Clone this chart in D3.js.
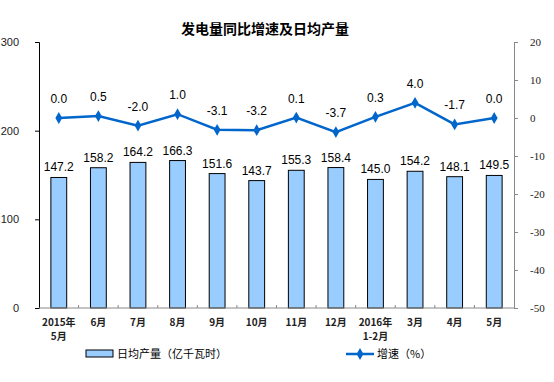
<!DOCTYPE html>
<html>
<head>
<meta charset="utf-8">
<script src="https://cdn.jsdelivr.net/npm/d3@7"></script>
<style>
  html, body { margin: 0; padding: 0; background: #fff; overflow: hidden; }
  svg { display: block; }
  text { font-family: Arial, "Liberation Sans", "Noto Sans CJK SC", sans-serif; }
</style>
</head>
<body>
<div id="chart"></div>
<script>
// Data
const months = ["2015年|5月", "6月", "7月", "8月", "9月", "10月", "11月", "12月", "2016年|1-2月", "3月", "4月", "5月"];
const dailyOutput = [147.2, 158.2, 164.2, 166.3, 151.6, 143.7, 155.3, 158.4, 145.0, 154.2, 148.1, 149.5];
const growth = [0.0, 0.5, -2.0, 1.0, -3.1, -3.2, 0.1, -3.7, 0.3, 4.0, -1.7, 0.0];
const leftTicks = [0, 100, 200, 300];
const rightTicks = [20, 10, 0, -10, -20, -30, -40, -50];

const width = 554, height = 382;
const margin = { top: 42, right: 40, bottom: 74, left: 39 };
const innerWidth = width - margin.left - margin.right;
const innerHeight = height - margin.top - margin.bottom;

const svg = d3.select("#chart")
    .append("svg")
    .attr("width", width)
    .attr("height", height);

const g = svg.append("g")
    .attr("transform", `translate(${margin.left},${margin.top})`);

// Scales
const xScale = d3.scaleBand()
    .domain(months)
    .range([0, innerWidth])
    .paddingInner(0.6)
    .paddingOuter(0.3);

const yLeft = d3.scaleLinear().domain([0, 300]).range([innerHeight, 0]);
const yRight = d3.scaleLinear().domain([-50, 20]).range([innerHeight, 0]);

// Title
svg.append("text")
    .attr("x", 265)
    .attr("y", 34)
    .attr("text-anchor", "middle")
    .style("font-family", "'Noto Sans CJK SC', sans-serif")
    .style("font-size", "14px")
    .style("font-weight", "bold")
    .text("发电量同比增速及日均产量");

/* Bars */
g.selectAll("rect.bar")
    .data(dailyOutput)
    .join("rect")
    .attr("class", "bar")
    .attr("x", (d, i) => xScale(months[i]))
    .attr("y", d => yLeft(d))
    .attr("width", xScale.bandwidth())
    .attr("height", d => innerHeight - yLeft(d))
    .attr("fill", "#99ccff")
    .attr("stroke", "#000")
    .attr("stroke-width", 1);

g.selectAll("text.bar-label")
    .data(dailyOutput)
    .join("text")
    .attr("class", "bar-label")
    .attr("x", (d, i) => xScale(months[i]) + xScale.bandwidth() / 2)
    .attr("y", d => yLeft(d) - 6)
    .attr("text-anchor", "middle")
    .style("font-size", "12px")
    .text(d => d.toFixed(1));

/* Axes */
// left
const leftAxis = g.append("g")
    .call(d3.axisLeft(yLeft).tickValues(leftTicks).tickSize(4).tickPadding(16));
leftAxis.select(".domain").attr("stroke", "#000");
leftAxis.selectAll("text").style("font-size", "11px").attr("fill", "#222");

// right (plain hyphen for negatives, as in the reference)
const rightAxis = g.append("g")
    .attr("transform", `translate(${innerWidth},0)`)
    .call(d3.axisRight(yRight).tickValues(rightTicks).tickFormat(d => String(d)).tickSize(4).tickPadding(12));
rightAxis.selectAll(".domain, line").attr("stroke", "#888");
rightAxis.selectAll("text")
    .style("font-size", "11px")
    .style("font-family", "'Liberation Serif', 'Times New Roman', serif")
    .attr("fill", "#222");

// bottom
g.append("line")
    .attr("x1", 0).attr("x2", innerWidth)
    .attr("y1", innerHeight).attr("y2", innerHeight)
    .attr("stroke", "#888");
const step = xScale.step();
g.selectAll("line.xtick")
    .data(d3.range(1, months.length))
    .join("line")
    .attr("class", "xtick")
    .attr("x1", i => xScale(months[i]) - step * 0.3)
    .attr("x2", i => xScale(months[i]) - step * 0.3)
    .attr("y1", innerHeight - 3)
    .attr("y2", innerHeight)
    .attr("stroke", "#888");

const xLabels = g.selectAll("text.xlabel")
    .data(months)
    .join("text")
    .attr("class", "xlabel")
    .attr("x", d => xScale(d) + xScale.bandwidth() / 2)
    .attr("y", innerHeight + 18)
    .attr("text-anchor", "middle")
    .style("font-size", "10px")
    .style("font-family", "'Noto Sans CJK SC', sans-serif")
    .style("font-weight", "bold")
    .attr("fill", "#222");
xLabels.each(function(d) {
    const parts = d.split("|");
    parts.forEach((p, k) => {
        d3.select(this).append("tspan")
            .attr("x", xScale(d) + xScale.bandwidth() / 2)
            .attr("dy", k === 0 ? 0 : 14)
            .text(p);
    });
});

/* Line */
const cx = (d, i) => xScale(months[i]) + xScale.bandwidth() / 2;
const line = d3.line()
    .x((d, i) => cx(d, i))
    .y(d => yRight(d));

g.append("path")
    .datum(growth)
    .attr("d", line)
    .attr("fill", "none")
    .attr("stroke", "#0066cc")
    .attr("stroke-width", 2.5);

const diamond = d3.symbol().type(d3.symbolDiamond).size(40);
g.selectAll("path.marker")
    .data(growth)
    .join("path")
    .attr("class", "marker")
    .attr("d", diamond)
    .attr("transform", (d, i) => `translate(${cx(d, i)},${yRight(d)})`)
    .attr("fill", "#0066cc");

g.selectAll("text.line-label")
    .data(growth)
    .join("text")
    .attr("class", "line-label")
    .attr("x", (d, i) => cx(d, i))
    .attr("y", d => yRight(d) - 15)
    .attr("text-anchor", "middle")
    .style("font-size", "12px")
    .text(d => d.toFixed(1));

/* Legend */
const legend = svg.append("g").attr("class", "legend");
legend.append("rect")
    .attr("x", 86).attr("y", 350)
    .attr("width", 27).attr("height", 7)
    .attr("fill", "#99ccff")
    .attr("stroke", "#000");
legend.append("text")
    .attr("x", 117).attr("y", 358)
    .style("font-size", "11px")
    .style("font-family", "'Noto Sans CJK SC', sans-serif")
    .text("日均产量（亿千瓦时）");

legend.append("line")
    .attr("x1", 346).attr("x2", 374)
    .attr("y1", 354).attr("y2", 354)
    .attr("stroke", "#0066cc")
    .attr("stroke-width", 2.5);
legend.append("path")
    .attr("d", diamond)
    .attr("transform", "translate(360,354)")
    .attr("fill", "#0066cc");
legend.append("text")
    .attr("x", 377).attr("y", 358)
    .style("font-size", "11px")
    .style("font-family", "'Noto Sans CJK SC', sans-serif")
    .text("增速（%）");
</script>
</body>
</html>
